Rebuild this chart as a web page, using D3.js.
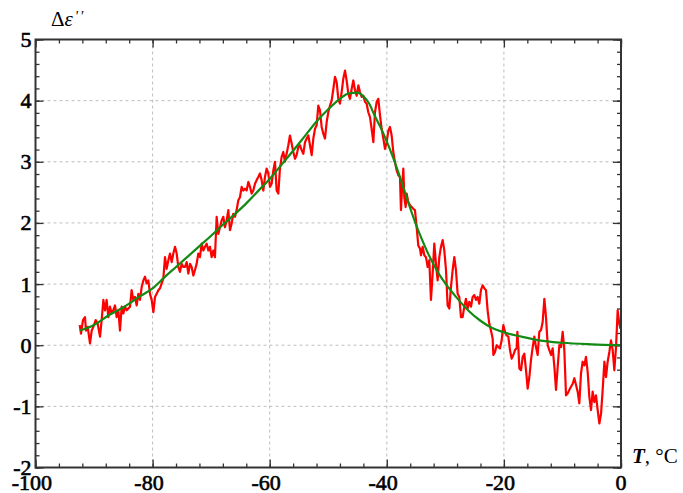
<!DOCTYPE html>
<html>
<head>
<meta charset="utf-8">
<script src="https://cdn.jsdelivr.net/npm/d3@7"></script>
<style>
  body { margin: 0; background: #fff; }
  text { font-family: "Liberation Serif", "Times New Roman", serif; }
</style>
</head>
<body>
<div id="chart"></div>
<script>
// Dielectric loss peak: measured (red) and fitted (green) vs temperature

// measured points [T, deltaEps]
const measured = [
  [-92.45,0.33],[-92.23,0.19],[-91.89,0.41],[-91.55,0.46],[-91.37,0.24],[-91.09,0.30],[-90.69,0.03],[-90.40,0.24],
  [-90.12,0.30],[-89.72,0.41],[-89.38,0.35],[-88.98,0.14],[-88.70,0.41],[-88.41,0.74],[-88.13,0.57],[-87.85,0.74],
  [-87.56,0.46],[-87.28,0.63],[-86.99,0.52],[-86.71,0.57],[-86.42,0.65],[-86.14,0.46],[-85.85,0.57],[-85.57,0.24],
  [-85.28,0.63],[-85.00,0.52],[-84.71,0.63],[-84.43,0.57],[-84.14,0.60],[-83.86,0.63],[-83.58,0.90],[-83.29,0.74],
  [-83.01,0.79],[-82.72,0.65],[-82.44,0.84],[-82.15,0.74],[-81.87,0.95],[-81.58,1.06],[-81.30,1.12],[-81.01,1.01],
  [-80.73,1.06],[-80.44,0.84],[-80.16,0.74],[-79.87,0.54],[-79.59,0.79],[-79.31,0.84],[-79.02,0.90],[-78.74,0.93],
  [-78.45,1.01],[-78.17,1.09],[-77.88,1.44],[-77.60,1.25],[-77.31,1.39],[-77.03,1.50],[-76.74,1.36],[-76.46,1.50],
  [-76.17,1.61],[-75.89,1.50],[-75.61,1.28],[-75.32,1.20],[-75.04,1.33],[-74.75,1.28],
  [-74.47,1.28],[-74.18,1.36],[-73.90,1.17],[-73.61,1.33],[-73.33,1.28],[-73.04,1.14],[-72.76,1.23],[-72.48,1.33],
  [-72.19,1.50],[-71.91,1.44],[-71.62,1.66],[-71.34,1.55],[-71.05,1.61],[-70.77,1.66],[-70.48,1.55],[-70.20,1.61],
  [-69.92,1.44],[-69.63,1.55],[-69.35,1.44],[-69.06,2.10],[-68.78,1.82],[-68.49,1.93],[-68.21,2.04],[-67.92,2.10],
  [-67.64,1.93],[-67.35,2.04],[-67.07,2.21],[-66.78,1.88],[-66.50,1.99],[-66.22,2.15],[-65.93,2.10],[-65.65,2.21],
  [-65.36,2.37],[-65.08,2.42],[-64.79,2.59],[-64.51,2.53],[-64.22,2.56],[-63.94,2.53],[-63.65,2.67],[-63.37,2.59],
  [-63.08,2.48],[-62.80,2.53],[-62.51,2.64],[-62.23,2.70],[-61.95,2.75],[-61.66,2.81],[-61.38,2.70],[-61.09,2.53],
  [-60.81,2.75],[-60.52,2.89],[-60.24,2.81],[-59.95,2.59],[-59.67,2.64],[-59.38,2.86],[-59.10,3.00],[-58.81,2.53],
  [-58.53,2.48],[-58.25,2.89],[-57.96,3.08],[-57.68,3.16],[-57.39,3.00],[-57.11,3.13],[-56.82,3.27],[-56.54,3.43],
  [-56.25,3.30],[-55.97,3.16],
  [-55.68,3.05],[-55.40,3.11],[-55.11,3.24],[-54.83,3.27],[-54.54,3.19],[-54.26,3.13],[-53.97,3.32],[-53.69,3.38],
  [-53.40,3.43],[-53.12,3.27],[-52.83,3.11],[-52.55,3.38],[-52.26,3.54],[-51.98,3.60],[-51.70,3.92],[-51.41,3.84],
  [-51.13,3.57],[-50.84,3.46],[-50.56,3.38],[-50.27,3.65],[-49.99,3.81],[-49.70,3.92],[-49.42,4.00],[-49.13,4.19],
  [-48.85,4.39],[-48.56,4.30],[-48.28,4.03],[-48.00,3.95],[-47.71,4.14],[-47.43,4.36],[-47.14,4.49],[-46.86,4.33],
  [-46.57,4.11],[-46.29,4.03],[-46.00,4.19],[-45.72,4.33],[-45.43,4.17],[-45.15,4.08],[-44.86,4.25],[-44.58,4.14],
  [-44.29,4.06],[-44.01,4.08],[-43.72,3.98],[-43.44,3.95],[-43.16,3.81],[-42.87,3.73],[-42.59,3.54],[-42.30,3.32],
  [-42.02,3.81],[-41.73,3.98],[-41.45,4.03],[-41.16,3.76],[-40.88,3.54],[-40.59,3.38],[-40.31,3.21],[-40.02,3.32],
  [-39.74,3.51],[-39.46,3.57],[-39.17,3.43],[-38.89,3.16],[-38.60,2.99],[-38.32,2.86],[-38.03,2.78],
  [-37.75,2.75],[-37.58,2.21],[-37.41,2.53],[-37.18,2.89],[-37.01,2.42],[-36.78,2.26],[-36.61,2.48],[-36.33,2.34],
  [-36.04,2.29],[-35.76,2.26],[-35.47,2.23],[-35.19,2.21],[-34.90,1.93],[-34.62,1.63],[-34.33,1.58],[-34.16,1.47],
  [-33.88,1.61],[-33.59,1.47],[-33.31,1.44],[-33.02,1.28],[-32.74,1.39],[-32.46,0.74],[-32.17,1.17],[-31.89,1.66],
  [-31.60,1.33],[-31.32,1.06],[-31.03,1.44],[-30.75,1.61],[-30.46,1.72],[-30.18,1.55],[-29.89,1.23],[-29.61,0.65],
  [-29.32,0.60],[-29.04,0.95],[-28.75,1.23],[-28.47,1.44],[-28.19,1.23],[-27.90,0.84],[-27.62,0.79],[-27.33,0.46],
  [-27.05,0.46],[-26.76,0.63],[-26.48,0.76],[-26.19,0.60],[-25.91,0.71],[-25.62,0.63],[-25.34,0.79],[-25.05,0.82],
  [-24.77,0.74],[-24.49,0.79],[-24.20,0.68],[-23.92,0.90],[-23.63,0.98],[-23.35,0.93],[-23.06,0.90],[-22.78,0.57],
  [-22.49,0.35],[-22.21,0.24],[-21.92,0.11],
  [-21.80,-0.16],[-21.52,-0.11],[-21.24,0.00],[-20.95,-0.03],[-20.67,-0.05],[-20.38,0.08],[-20.10,0.33],
  [-19.81,0.22],[-19.53,0.16],[-19.24,0.14],[-18.96,-0.08],[-18.67,-0.22],[-18.39,-0.16],[-18.10,-0.08],[-17.82,-0.05],
  [-17.70,0.22],[-17.53,-0.03],[-17.36,-0.38],[-17.08,-0.41],[-16.79,-0.19],[-16.51,-0.14],[-16.22,-0.41],[-15.94,-0.71],
  [-15.65,-0.52],[-15.37,-0.24],[-15.08,-0.03],[-14.80,0.14],[-14.52,-0.03],[-14.23,-0.16],[-13.95,0.22],[-13.66,0.25],
  [-13.38,0.38],[-13.09,0.76],[-12.81,0.46],[-12.52,0.00],[-12.24,-0.08],[-11.95,-0.16],[-11.67,-0.05],[-11.38,-0.35],
  [-11.10,-0.73],[-10.81,-0.35],[-10.53,0.00],[-10.25,-0.03],[-9.96,0.22],[-9.68,-0.08],[-9.39,-0.82],[-9.11,-0.79],
  [-8.82,-0.73],[-8.54,-0.68],[-8.25,-0.63],[-7.97,-0.54],[-7.68,-0.65],[-7.40,-0.76],[-7.12,-0.95],[-6.83,-0.46],
  [-6.55,-0.27],[-6.26,-0.33],[-5.98,-0.19],[-5.69,-0.44],[-5.41,-0.84],[-5.12,-1.06],[-4.84,-0.76],[-4.55,-0.93],
  [-4.27,-0.82],[-3.98,-1.06],[-3.70,-1.28],[-3.41,-1.12],[-3.13,-0.73],[-2.84,-0.27],[-2.56,-0.52],[-2.28,-0.27],
  [-1.99,-0.11],[-1.71,0.08],[-1.42,-0.08],[-1.14,-0.41],[-0.85,-0.03],[-0.57,0.57],[-0.28,0.35],[-0.10,0.27]
];

// fitted curve [T, deltaEps]
const fitted = [
  [-92.4,0.24],[-90,0.33],[-87.5,0.49],[-85,0.62],[-82,0.81],[-80,0.93],[-78,1.11],[-76,1.28],[-74,1.45],
  [-72,1.62],[-70,1.79],[-68,1.97],[-66,2.14],[-64,2.32],[-62,2.52],[-60,2.72],[-58,2.95],[-56,3.18],
  [-54,3.42],[-52,3.66],[-50,3.86],[-48,4.03],[-46.5,4.12],[-45,4.13],[-44,4.07],[-43,3.95],[-42,3.74],
  [-41,3.55],[-40,3.33],[-39,3.09],[-38,2.82],[-37,2.53],[-36,2.24],[-35,1.97],[-34,1.73],[-33,1.51],
  [-32,1.32],[-31,1.15],[-30,1.01],[-28,0.77],[-26,0.56],[-24,0.40],[-22,0.28],[-20,0.21],[-17,0.14],
  [-14,0.08],[-10,0.04],[-5,0.015],[0,0.0]
];

const xTicks = [-100, -80, -60, -40, -20, 0];
const yTicks = [-2, -1, 0, 1, 2, 3, 4, 5];

const width = 683, height = 493;
const margin = { top: 39.5, right: 62, bottom: 25.5, left: 35.5 };
const w = width - margin.left - margin.right;
const h = height - margin.top - margin.bottom;

const svg = d3.select("#chart").
append("svg").
attr("width", width).
attr("height", height);

const plot = svg.append("g").
attr("transform", `translate(${margin.left} ${margin.top})`);

const x = d3.scaleLinear().domain([-100, 0]).range([0, w]);
const y = d3.scaleLinear().domain([-2, 5]).range([h, 0]);

// dashed grid
plot.append("g").
selectAll("line").
data(xTicks.slice(1, -1)).
join("line").
attr("x1", d => x(d)).attr("x2", d => x(d)).
attr("y1", 0).attr("y2", h).
attr("stroke", "#bdbdbd").
attr("stroke-dasharray", "3,3");

plot.append("g").
selectAll("line").
data(yTicks.slice(1, -1)).
join("line").
attr("y1", d => y(d)).attr("y2", d => y(d)).
attr("x1", 0).attr("x2", w).
attr("stroke", "#bdbdbd").
attr("stroke-dasharray", "3,3");

// ticks pointing inward on all four sides
const xMinor = d3.range(-100, 0.1, 4);
const yMinor = d3.range(-2, 5.01, 0.2);

function addTicks(axis, scale, vals, size, tr) {
  plot.append("g").
  attr("transform", tr).
  call(axis(scale).tickValues(vals).tickSize(size).tickFormat("")).
  call(g => g.select(".domain").remove()).
  call(g => g.selectAll("line").attr("stroke", "#333").attr("stroke-width", 1.3));
}
addTicks(d3.axisBottom, x, xMinor, -4, `translate(0 ${h})`);
addTicks(d3.axisBottom, x, xTicks, -8, `translate(0 ${h})`);
addTicks(d3.axisTop, x, xMinor, -4, "translate(0 0)");
addTicks(d3.axisTop, x, xTicks, -8, "translate(0 0)");
addTicks(d3.axisLeft, y, yMinor, -4, "translate(0 0)");
addTicks(d3.axisLeft, y, yTicks, -8, "translate(0 0)");
addTicks(d3.axisRight, y, yMinor, -4, `translate(${w} 0)`);
addTicks(d3.axisRight, y, yTicks, -8, `translate(${w} 0)`);

// data lines
const line = d3.line().x(d => x(d[0])).y(d => y(d[1]));

plot.append("path").
datum(measured).
attr("fill", "none").
attr("stroke", "#ff0000").
attr("stroke-width", 2.2).
attr("stroke-linejoin", "round").
attr("d", line);

plot.append("path").
datum(fitted).
attr("fill", "none").
attr("stroke", "#138a13").
attr("stroke-width", 2.2).
attr("d", line.curve(d3.curveMonotoneX));

// frame
plot.append("rect").
attr("width", w).
attr("height", h).
attr("fill", "none").
attr("stroke", "#333").
attr("stroke-width", 2);

// tick labels (minus sign hangs to the left of the centred digits)
const labelFont = "Liberation Serif";

plot.append("g").
selectAll("text").
data(xTicks).
join("text").
attr("x", d => x(d) + (d < 0 ? -3.6 : 0)).
attr("y", h + 22).
attr("text-anchor", "middle").
attr("font-family", labelFont).
attr("stroke", "#000").
attr("stroke-width", 0.6).
style("font-size", "22px").
text(d => String(d));

plot.append("g").
selectAll("text").
data(yTicks).
join("text").
attr("x", -4).
attr("y", d => y(d) + 7.5).
attr("text-anchor", "end").
attr("font-family", labelFont).
attr("stroke", "#000").
attr("stroke-width", 0.6).
style("font-size", "22px").
text(d => String(d));

// axis titles
const yTitle = svg.append("text").
attr("x", 51).
attr("y", 26).
attr("font-family", labelFont).
style("font-size", "21px");
yTitle.append("tspan").text("Δ");
yTitle.append("tspan").style("font-style", "italic").text("ε");
yTitle.append("tspan").style("font-size", "15px").style("font-style", "italic").
attr("dy", -5).attr("dx", 2).style("letter-spacing", "2px").text("''");

const xTitle = svg.append("text").
attr("x", 632).
attr("y", 463).
attr("font-family", labelFont).
style("font-size", "21px");
xTitle.append("tspan").style("font-style", "italic").style("font-weight", "bold").text("T");
xTitle.append("tspan").text(", °C");
</script>
</body>
</html>
